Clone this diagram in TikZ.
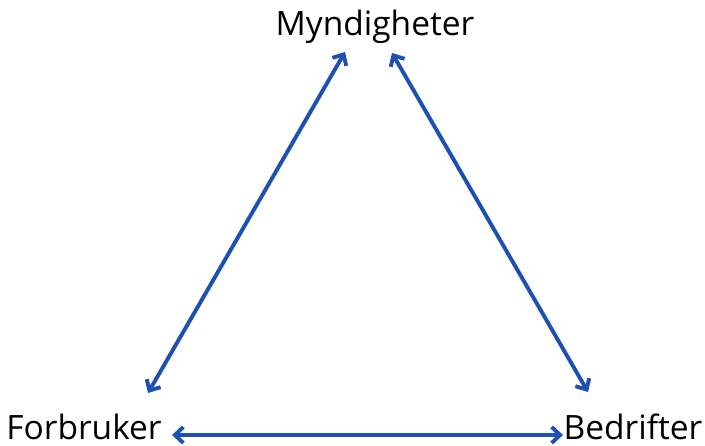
\documentclass[tikz,border=0pt]{standalone}
\usepackage{fontspec}
\setmainfont{Open Sans}
\usetikzlibrary{positioning,arrows.meta}
\definecolor{linkblue}{HTML}{1E50B4}

\begin{document}
\begin{tikzpicture}[x=1pt, y=-1pt,
    actor/.style={font=\fontsize{33.5}{40}\selectfont, inner sep=0pt, text depth=0pt, anchor=base},
    link/.style={{Straight Barb[length=8.5pt,width=16pt]}-{Straight Barb[length=8.5pt,width=16pt]}, line width=3.9pt, draw=linkblue}
]
    \useasboundingbox (0,0) rectangle (705,445);

    % Actors
    \node[actor] (myn) at (375,35) {Myndigheter};
    \node[actor] (forb) at (84,439) {Forbruker};
    \node[actor] (bedr) at (633,439) {Bedrifter};

    % Relations
    \draw[link] ([shift={(-30,17)}]myn.base) -- ([shift={(64,-46)}]forb.base);
    \draw[link] ([shift={(17,18)}]myn.base) -- ([shift={(-45,-47)}]bedr.base);
    \draw[link] ([shift={(88,-4)}]forb.base) -- ([shift={(-70,-4)}]bedr.base);
\end{tikzpicture}
\end{document}
